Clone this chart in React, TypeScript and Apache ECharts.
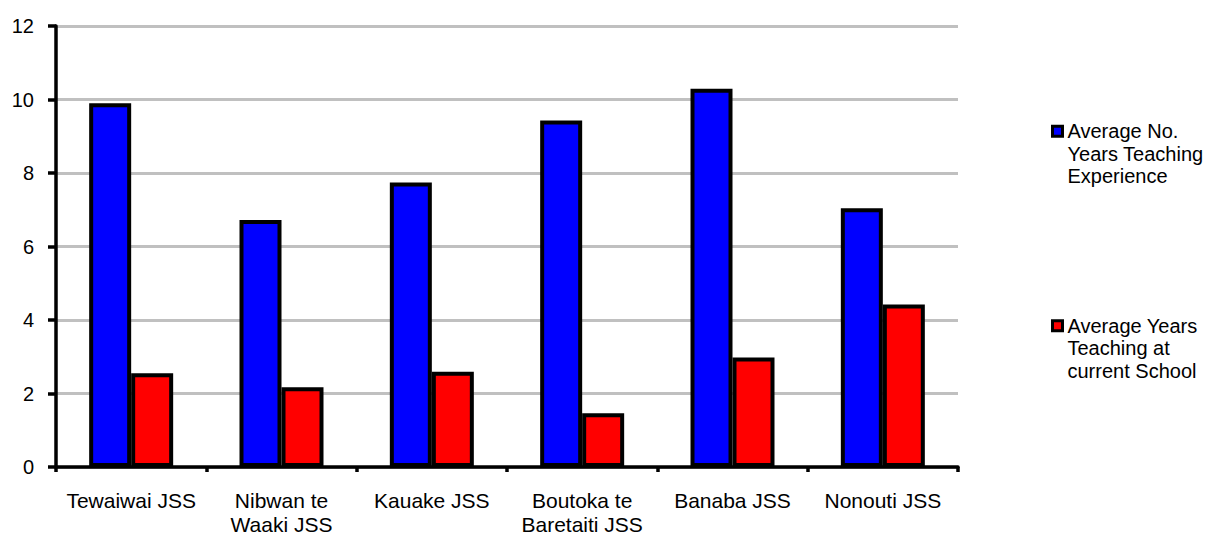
import React, { useEffect, useRef } from "react";
import * as echarts from "echarts";

const categories = [
  "Tewaiwai JSS",
  "Nibwan te\nWaaki JSS",
  "Kauake JSS",
  "Boutoka te\nBaretaiti JSS",
  "Banaba JSS",
  "Nonouti JSS",
];
const seriesNames = [
  "Average No.\nYears Teaching\nExperience",
  "Average Years\nTeaching at\ncurrent School",
];
const experience = [9.9, 6.72, 7.74, 9.43, 10.29, 7.04];
const currentSchool = [2.55, 2.17, 2.59, 1.46, 2.98, 4.42];
const seriesColors = ["#0000ff", "#ff0000"];

const FONT = "'Liberation Sans', Arial, sans-serif";

export default function App() {
  const ref = useRef<HTMLDivElement>(null);
  useEffect(() => {
    document.body.style.margin = "0";
    if (!ref.current) return;
    const chart = echarts.init(ref.current, undefined, { renderer: "svg" });
    chart.setOption({
      animation: false,
      backgroundColor: "#ffffff",
      textStyle: { fontFamily: FONT },
      grid: { left: 56, top: 26, right: 250, bottom: 67, containLabel: false },
      legend: {
        orient: "vertical",
        left: 1046,
        top: 70,
        itemWidth: 10,
        itemHeight: 10,
        itemGap: 82,
        icon: "rect",
        itemStyle: { borderColor: "#000", borderWidth: 3 },
        formatter: (name: string) => " \n \n" + name,
        textStyle: {
          fontFamily: FONT,
          fontSize: 20,
          lineHeight: 22.5,
          color: "#000",
        },
        data: seriesNames,
      },
      xAxis: {
        type: "category",
        data: categories,
        axisLine: { show: true, lineStyle: { color: "#000", width: 3.5 } },
        axisTick: { show: true, length: 5, lineStyle: { color: "#000", width: 3.5 } },
        axisLabel: {
          interval: 0,
          fontFamily: FONT,
          fontSize: 21,
          lineHeight: 24,
          color: "#000",
          margin: 21,
        },
        splitLine: { show: false },
      },
      yAxis: {
        type: "value",
        min: 0,
        max: 12,
        interval: 2,
        axisLine: { show: true, lineStyle: { color: "#000", width: 3.5 } },
        axisTick: { show: true, length: 8, lineStyle: { color: "#000", width: 3.5 } },
        axisLabel: { fontFamily: FONT, fontSize: 20, color: "#000", margin: 22 },
        splitLine: { show: true, lineStyle: { color: "#c0c0c0", width: 3 } },
      },
      series: [
        {
          name: seriesNames[0],
          type: "bar",
          data: experience,
          barWidth: 42,
          barGap: "0%",
          itemStyle: { color: seriesColors[0], borderColor: "#000", borderWidth: 4 },
        },
        {
          name: seriesNames[1],
          type: "bar",
          data: currentSchool,
          barWidth: 42,
          barGap: "0%",
          itemStyle: { color: seriesColors[1], borderColor: "#000", borderWidth: 4 },
        },
      ],
    });
    return () => chart.dispose();
  }, []);
  return <div ref={ref} style={{ width: 1208, height: 536 }} />;
}
